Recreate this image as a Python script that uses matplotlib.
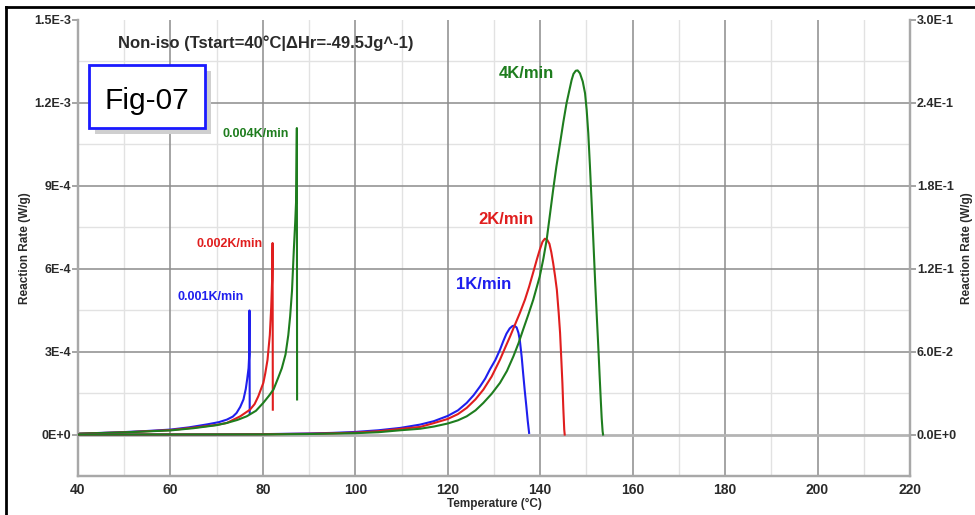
import matplotlib
matplotlib.use("Agg")
import matplotlib.pyplot as plt
from matplotlib.patches import Rectangle
from matplotlib.lines import Line2D

plt.rcParams['font.family'] = ['Liberation Sans', 'DejaVu Sans']

# ---- slow heating rates (left axis, W/g) ----
t_001 = [40, 50, 55, 60, 64, 68, 70.5, 72.2, 73.5, 74.3, 75.1, 75.8, 76.3,
         76.6, 76.9, 77.05, 77.1, 77.15]
r_001 = [0.3e-5, 0.9e-5, 1.3e-5, 1.8e-5, 2.6e-5, 3.7e-5, 4.5e-5, 5.4e-5,
         6.5e-5, 7.8e-5, 1.0e-4, 1.27e-4, 1.65e-4, 2.0e-4, 2.4e-4, 2.9e-4,
         4.49e-4, 0.78e-4]

t_002 = [40, 50, 60, 65, 70, 72.2, 75.1, 77.2, 78.2, 79.0, 80.1, 80.5, 81.0,
         81.5, 81.8, 82.0, 82.1, 82.15]
r_002 = [0.3e-5, 0.8e-5, 1.6e-5, 2.5e-5, 3.5e-5, 4.2e-5, 6.6e-5, 9.0e-5,
         1.1e-4, 1.38e-4, 1.87e-4, 2.2e-4, 2.7e-4, 3.6e-4, 4.6e-4, 5.6e-4,
         6.93e-4, 0.9e-4]

t_004 = [40, 50, 60, 65, 70, 72.2, 74.5, 76.5, 78.5, 80.1, 81.3, 82.3, 83.3,
         84.1, 84.9, 85.5, 85.9, 86.3, 86.7, 87.0, 87.2, 87.35, 87.4]
r_004 = [0.3e-5, 0.8e-5, 1.5e-5, 2.3e-5, 3.4e-5, 4.2e-5, 5.3e-5, 6.6e-5,
         8.6e-5, 1.15e-4, 1.4e-4, 1.63e-4, 2.05e-4, 2.4e-4, 2.9e-4, 3.6e-4,
         4.28e-4, 5.2e-4, 6.7e-4, 7.7e-4, 8.5e-4, 1.109e-3, 1.27e-4]

# ---- fast heating rates (right axis, W/g) ----
t_1 = [40, 70, 80, 90, 95, 100, 105, 109.7, 114.0, 117, 120.0, 122.2, 124.1,
       125.6, 127.0, 128.1, 129.1, 130.3, 131.3, 132.0, 132.7, 133.4, 134.0,
       134.4, 134.9, 135.3, 135.6, 136.0, 136.3, 136.65, 137.0, 137.3, 137.6]
r_1 = [0.0, 0.0001, 0.0003, 0.0008, 0.0012, 0.0019, 0.0031, 0.0048, 0.0072,
       0.0097, 0.0135, 0.0175, 0.0229, 0.0285, 0.0349, 0.0405, 0.0470, 0.0540,
       0.0614, 0.0675, 0.0730, 0.0768, 0.0785, 0.0788, 0.0775, 0.0735, 0.0680,
       0.0560, 0.0446, 0.0320, 0.0205, 0.0100, 0.0012]

t_2 = [40, 70, 80, 90, 95, 100, 105, 109.7, 114, 117, 120.0, 122.2, 124.1,
       126, 127.7, 129.5, 131.3, 132.5, 133.5, 134.6, 135.6, 136.7, 137.6,
       138.5, 139.3, 139.9, 140.5, 141.0, 141.5, 142.0, 142.4, 142.8, 143.2,
       143.6, 144.0, 144.3, 144.6, 144.8, 145.0, 145.2, 145.3]
r_2 = [0.0, 0.0001, 0.0002, 0.0006, 0.0009, 0.0014, 0.0024, 0.0041, 0.0055,
       0.0083, 0.0113, 0.0148, 0.0193, 0.0255, 0.0325, 0.0420, 0.0542, 0.0635,
       0.0711, 0.0800, 0.0880, 0.0976, 0.1070, 0.1175, 0.1270, 0.1337, 0.1395,
       0.1417, 0.1410, 0.1380, 0.1320, 0.1241, 0.1150, 0.1048, 0.0880, 0.0735,
       0.0520, 0.0374, 0.0190, 0.0036, 0.0]

t_4 = [40, 80, 90, 95, 100, 105, 109.7, 114, 117, 120, 122.2, 124.1, 126,
       127.7, 129.5, 131.3, 132.8, 134.2, 135.3, 136.3, 137.4, 138.5, 139.2,
       139.9, 140.7, 141.4, 142.1, 142.8, 143.5, 144.3, 145.0, 145.7, 146.3,
       146.8, 147.2, 147.7, 148.1, 148.6, 149.2, 149.7, 150.05, 150.4, 150.75,
       151.1, 151.5, 151.9, 152.25, 152.6, 152.85, 153.1, 153.3, 153.5, 153.6]
r_4 = [0.0, 0.0001, 0.0004, 0.0007, 0.0010, 0.0017, 0.0031, 0.0042, 0.0058,
       0.0080, 0.0103, 0.0132, 0.0175, 0.0229, 0.0295, 0.0374, 0.0460, 0.0566,
       0.0660, 0.0759, 0.0865, 0.0976, 0.1060, 0.1144, 0.1275, 0.1410, 0.1590,
       0.1771, 0.1940, 0.2109, 0.2260, 0.2398, 0.2490, 0.2566, 0.2610, 0.2633,
       0.2635, 0.2614, 0.2555, 0.2470, 0.2350, 0.2181, 0.1950, 0.1699, 0.1400,
       0.1096, 0.0850, 0.0614, 0.0430, 0.0253, 0.0120, 0.0024, 0.0]

x_ticks = [40, 60, 80, 100, 120, 140, 160, 180, 200, 220]
y_left_ticks = [0, 3e-4, 6e-4, 9e-4, 1.2e-3, 1.5e-3]
y_left_labels = ["0E+0", "3E-4", "6E-4", "9E-4", "1.2E-3", "1.5E-3"]
y_right_ticks = [0, 0.06, 0.12, 0.18, 0.24, 0.30]
y_right_labels = ["0.0E+0", "6.0E-2", "1.2E-1", "1.8E-1", "2.4E-1", "3.0E-1"]

BLUE = "#1f1fee"
RED = "#e01e1e"
GREEN = "#1e7d1e"
TXT = "#2a2a2a"
MAJOR = "#8c8c8c"
MINOR = "#e2e2e2"
SPINE = "#a8a8a8"

fig = plt.figure(figsize=(9.75, 5.15), dpi=100)
ax = fig.add_axes([0.08, 0.0757, 0.8533, 0.8855])
ax2 = ax.twinx()

ax.set_xlim(40, 220)
ax.set_ylim(-1.5e-4, 1.5e-3)
ax2.set_ylim(-0.03, 0.30)

# grid: major and half-step minor lines
for xv in range(50, 220, 20):
    ax.axvline(xv, color=MINOR, lw=1.0, zorder=0)
for yv in [-1.5e-4, 1.5e-4, 4.5e-4, 7.5e-4, 1.05e-3, 1.35e-3]:
    ax.axhline(yv, color=MINOR, lw=1.0, zorder=0)
for xv in x_ticks[1:-1]:
    ax.axvline(xv, color=MAJOR, lw=1.1, zorder=0.5)
for yv in y_left_ticks[1:-1]:
    ax.axhline(yv, color=MAJOR, lw=1.1, zorder=0.5)
ax.axhline(0, color="#b4b4b4", lw=2.0, zorder=0.5)

for a in (ax, ax2):
    a.spines["top"].set_visible(False)
    for s in ["left", "right", "bottom"]:
        a.spines[s].set_color(SPINE)
        a.spines[s].set_linewidth(1.6)

# slow rates
ax.plot(t_001, r_001, color=BLUE, lw=1.5, zorder=3)
ax.plot(t_002, r_002, color=RED, lw=1.5, zorder=3)
ax.plot(t_004, r_004, color=GREEN, lw=1.5, zorder=3)
# fast rates
ax2.plot(t_1, r_1, color=BLUE, lw=1.5, zorder=3)
ax2.plot(t_2, r_2, color=RED, lw=1.5, zorder=3)
ax2.plot(t_4, r_4, color=GREEN, lw=1.5, zorder=3)

ax.set_xticks(x_ticks)
ax.set_xticklabels([str(v) for v in x_ticks])
ax.set_yticks(y_left_ticks)
ax.set_yticklabels(y_left_labels)
ax2.set_yticks(y_right_ticks)
ax2.set_yticklabels(y_right_labels)

ax.tick_params(axis="x", length=0, pad=5, labelsize=10, labelcolor=TXT)
ax.tick_params(axis="y", length=4, width=1.1, color=MAJOR, pad=1,
               labelsize=9, labelcolor=TXT)
ax2.tick_params(axis="y", length=4, width=1.1, color=MAJOR, pad=1,
                labelsize=9, labelcolor=TXT)
for lab in ax.get_xticklabels() + ax.get_yticklabels() + ax2.get_yticklabels():
    lab.set_fontweight("bold")

ax.set_xlabel("Temperature (°C)", fontsize=8.5, fontweight="bold",
              color=TXT, labelpad=1)
ax.set_ylabel("Reaction Rate (W/g)", fontsize=8.5, fontweight="bold",
              color=TXT, va="center")
ax2.set_ylabel("Reaction Rate (W/g)", fontsize=8.5, fontweight="bold",
               color=TXT, rotation=90, va="center")
ax.yaxis.set_label_coords(-0.064, 0.5)
ax2.yaxis.set_label_coords(1.0685, 0.5)

ax.text(0.048, 0.9496, "Non-iso (Tstart=40°C|ΔHr=-49.5Jg^-1)",
        transform=ax.transAxes, fontsize=12, fontweight="bold",
        color=TXT, ha="left", va="center", zorder=5)

# curve labels
ax.text(78.5, 1.088e-3, "0.004K/min", color=GREEN, fontsize=9,
        fontweight="bold", ha="center", va="center", zorder=5)
ax.text(72.7, 6.9e-4, "0.002K/min", color=RED, fontsize=9,
        fontweight="bold", ha="center", va="center", zorder=5)
ax.text(68.6, 4.99e-4, "0.001K/min", color=BLUE, fontsize=9,
        fontweight="bold", ha="center", va="center", zorder=5)
ax2.text(137.1, 0.261, "4K/min", color=GREEN, fontsize=12,
         fontweight="bold", ha="center", va="center", zorder=5)
ax2.text(132.6, 0.1554, "2K/min", color=RED, fontsize=12,
         fontweight="bold", ha="center", va="center", zorder=5)
ax2.text(127.8, 0.1084, "1K/min", color=BLUE, fontsize=12,
         fontweight="bold", ha="center", va="center", zorder=5)

# figure tag with drop shadow
W, H = 975.0, 515.0
bx0, by0, bx1, by1 = 89, 65, 205, 128
fig.patches.append(Rectangle(((bx0 + 6) / W, 1 - (by1 + 6) / H),
                             (bx1 - bx0) / W, (by1 - by0) / H,
                             transform=fig.transFigure, facecolor="#cfcfcf",
                             edgecolor="none", zorder=10))
fig.patches.append(Rectangle((bx0 / W, 1 - by1 / H),
                             (bx1 - bx0) / W, (by1 - by0) / H,
                             transform=fig.transFigure, facecolor="white",
                             edgecolor="#1a1aff", lw=2.0, zorder=11))
fig.text((bx0 + bx1) / 2 / W, 1 - 101 / H, "Fig-07", fontsize=21.5,
         color="black", ha="center", va="center", zorder=12)

# outer frame
fig.lines.append(Line2D([6 / W, 6 / W], [0, 1 - 7 / H], transform=fig.transFigure,
                        color="black", lw=2.0))
fig.lines.append(Line2D([6 / W, 1], [1 - 7 / H, 1 - 7 / H], transform=fig.transFigure,
                        color="black", lw=2.0))

fig.savefig("out.png", dpi=100)
